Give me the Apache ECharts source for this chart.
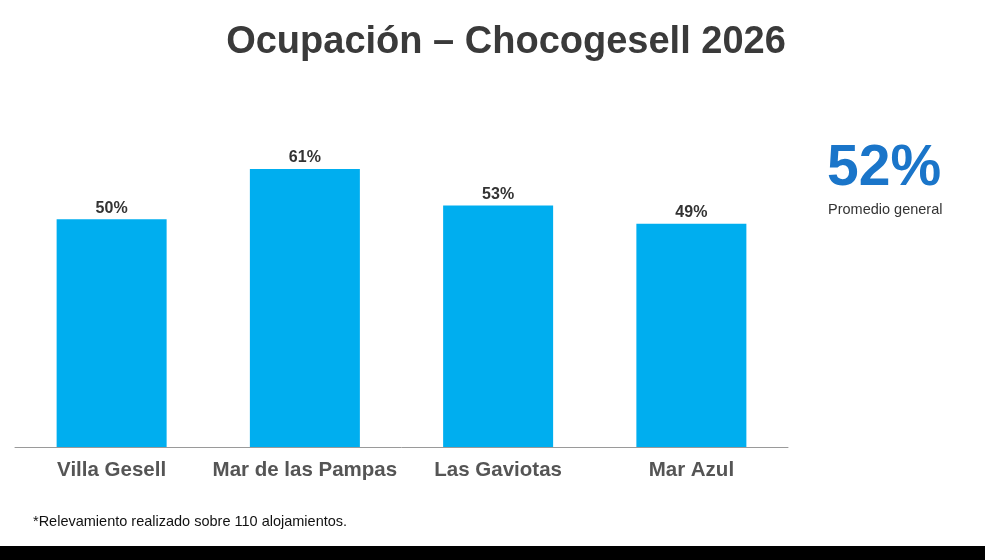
<!DOCTYPE html>
<html>
<head>
<meta charset="utf-8">
<script src="https://cdn.jsdelivr.net/npm/echarts@6/dist/echarts.min.js"></script>
<style>
  html, body { margin: 0; padding: 0; background: #fff; }
  #chart { width: 985px; height: 560px; }
</style>
</head>
<body>
<div id="chart"></div>
<script>
// datos de ocupación por localidad
const localidades = ['Villa Gesell', 'Mar de las Pampas', 'Las Gaviotas', 'Mar Azul']
const ocupacion = [50, 61, 53, 49]
const promedio = 52

const FONT = '"Liberation Sans", Arial, sans-serif'

const chart = echarts.init(document.getElementById('chart'))

chart.setOption({
    animation: false,
    textStyle: {fontFamily: FONT},
    title: [
        {
            text: 'Ocupación – Chocogesell 2026',
            left: 501,
            top: 19,
            textAlign: 'center',
            textStyle: {fontSize: 38, fontWeight: 'bold', color: '#3a3a3a', fontFamily: FONT}
        },
        {
            text: promedio + '%',
            left: 822,
            top: 136,
            textStyle: {fontSize: 57, fontWeight: 'bold', color: '#1a75c9', fontFamily: FONT}
        },
        {
            text: 'Promedio general',
            left: 823,
            top: 197,
            textStyle: {fontSize: 14.5, fontWeight: 'normal', color: '#333', fontFamily: FONT}
        },
        {
            text: '*Relevamiento realizado sobre 110 alojamientos.',
            left: 28,
            top: 509,
            textStyle: {fontSize: 14.5, fontWeight: 'normal', color: '#111', fontFamily: FONT}
        }
    ],
    grid: {left: 15, right: 197, top: 128, bottom: 113, containLabel: false},
    xAxis: {
        type: 'category',
        data: localidades,
        axisLine: {lineStyle: {color: '#9a9a9a', width: 1}},
        axisTick: {show: false},
        axisLabel: {
            interval: 0,
            fontSize: 20.5,
            fontWeight: 'bold',
            color: '#555',
            margin: 13,
            fontFamily: FONT
        }
    },
    yAxis: {
        type: 'value',
        min: 0,
        max: 70,
        show: false,
        splitLine: {show: false}
    },
    series: [{
        type: 'bar',
        data: ocupacion,
        barWidth: 110,
        itemStyle: {color: '#00aeef'},
        label: {
            show: true,
            position: 'top',
            distance: 3,
            formatter: '{c}%',
            fontSize: 16,
            fontWeight: 'bold',
            color: '#333',
            fontFamily: FONT
        }
    }],
    graphic: [{
        type: 'rect',
        left: 0,
        bottom: 0,
        shape: {width: 985, height: 14},
        style: {fill: '#000'}
    }]
})
</script>
</body>
</html>
